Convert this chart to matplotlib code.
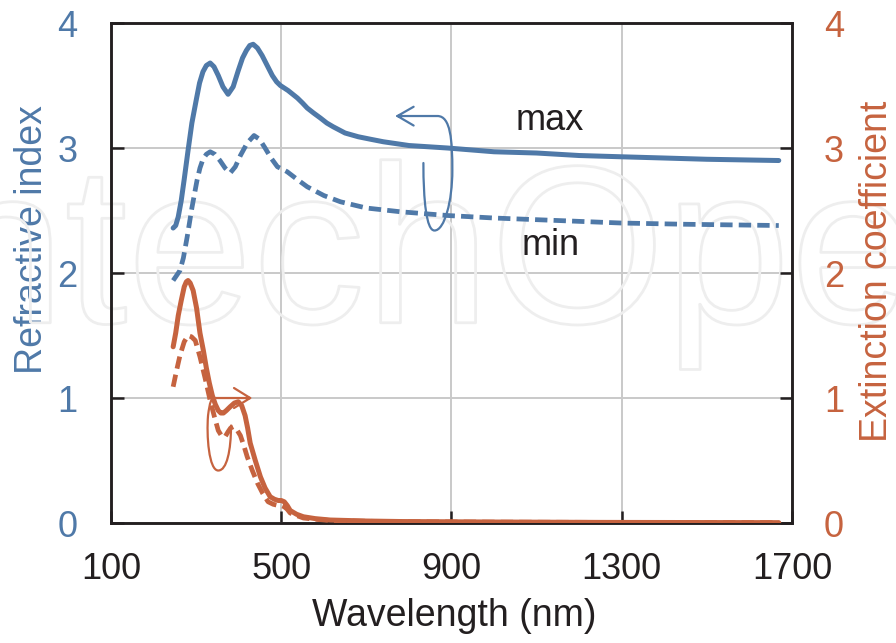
import matplotlib
matplotlib.use("Agg")
import matplotlib.pyplot as plt
import matplotlib.patheffects as pe
from matplotlib.path import Path
from matplotlib.patches import PathPatch

plt.rcParams['font.family'] = ['Liberation Sans', 'DejaVu Sans']

BLUE = "#4f79a8"
ORANGE = "#c6633f"
INK = "#231f20"

# refractive index, upper bound
n_max_wl = [246, 252, 258, 265, 272, 281, 290, 300, 308, 316, 324, 333, 342, 352, 363,
            375, 387, 399, 409, 418, 426, 434, 444, 455, 467, 479, 489, 498, 507, 516,
            527, 538, 550, 561, 576, 592, 607, 622, 650, 681, 710, 740, 800, 891,
            1000, 1100, 1200, 1298, 1400, 1500, 1669]
n_max = [2.36, 2.38, 2.45, 2.58, 2.75, 2.98, 3.20, 3.38, 3.52, 3.61, 3.66, 3.68, 3.65, 3.58, 3.49,
         3.43, 3.49, 3.62, 3.72, 3.78, 3.82, 3.83, 3.80, 3.74, 3.66, 3.58, 3.53, 3.50, 3.48, 3.46,
         3.43, 3.40, 3.36, 3.32, 3.28, 3.24, 3.20, 3.17, 3.12, 3.09, 3.07, 3.05, 3.02, 3.00,
         2.97, 2.96, 2.94, 2.93, 2.92, 2.91, 2.90]

# refractive index, lower bound
n_min_wl = [246, 252, 262, 270, 279, 290, 302, 309, 316, 324, 333, 344, 356, 368, 380,
            392, 404, 420, 436, 449, 462, 476, 491, 503, 514, 537, 561, 600, 639, 700,
            780, 891, 1000, 1150, 1298, 1450, 1669]
n_min = [1.94, 1.97, 2.02, 2.12, 2.29, 2.52, 2.74, 2.84, 2.91, 2.95, 2.97, 2.95, 2.90, 2.84, 2.80,
         2.85, 2.94, 3.04, 3.10, 3.07, 3.00, 2.92, 2.85, 2.83, 2.81, 2.75, 2.69, 2.62, 2.57, 2.52,
         2.49, 2.46, 2.44, 2.42, 2.40, 2.39, 2.38]

# extinction coefficient, upper bound
k_max_wl = [246, 252, 258, 265, 272, 277, 281, 286, 293, 301, 309, 317, 324, 331, 338,
            345, 352, 358, 364, 371, 380, 390, 399, 407, 415, 421, 427, 439, 451, 462,
            474, 484, 493, 500, 507, 514, 521, 536, 552, 580, 615, 700, 780, 1000,
            1250, 1450, 1669]
k_max = [1.41, 1.52, 1.66, 1.78, 1.89, 1.93, 1.94, 1.92, 1.86, 1.72, 1.52, 1.38, 1.24, 1.12, 1.02,
         0.95, 0.90, 0.88, 0.88, 0.90, 0.93, 0.96, 0.97, 0.94, 0.86, 0.76, 0.64, 0.50, 0.37, 0.28,
         0.21, 0.19, 0.18, 0.18, 0.17, 0.14, 0.10, 0.07, 0.05, 0.035, 0.024, 0.016, 0.012, 0.008,
         0.005, 0.004, 0.003]

# extinction coefficient, lower bound
k_min_wl = [246, 254, 262, 272, 281, 289, 298, 309, 321, 333, 343, 352, 361, 368, 375,
            381, 387, 395, 404, 412, 420, 432, 444, 456, 469, 481, 493, 500, 507, 514,
            521, 536, 552, 580, 615, 700, 780, 1000, 1250, 1450, 1669]
k_min = [1.09, 1.22, 1.34, 1.45, 1.50, 1.49, 1.46, 1.33, 1.16, 0.98, 0.85, 0.74, 0.69, 0.69, 0.73,
         0.76, 0.77, 0.75, 0.70, 0.62, 0.53, 0.42, 0.32, 0.24, 0.17, 0.15, 0.14, 0.14, 0.13, 0.11,
         0.08, 0.06, 0.04, 0.03, 0.02, 0.014, 0.01, 0.007, 0.005, 0.004, 0.003]

x_ticks = [100, 500, 900, 1300, 1700]
y_ticks = [0, 1, 2, 3, 4]

fig = plt.figure(figsize=(8.96, 6.43), dpi=100)
ax = fig.add_axes([0.1239, 0.1866, 0.7600, 0.7776])
ax2 = ax.twinx()

# faint outlined watermark behind the curves
ax.text(-0.137, 0.498, "IntechOpen", transform=fig.transFigure, fontsize=162,
        color="none", ha="left", va="baseline", zorder=1, clip_on=False,
        path_effects=[pe.Stroke(linewidth=2.0, foreground="#eeeeee")])

lw = 3.6
ax.plot(n_max_wl, n_max, color=BLUE, lw=lw, solid_capstyle="round", solid_joinstyle="round", zorder=3)
ax.plot(n_min_wl, n_min, color=BLUE, lw=lw * 0.95, ls=(0, (2.6, 1.3)), dash_capstyle="butt", zorder=3)
ax2.plot(k_max_wl, k_max, color=ORANGE, lw=lw, solid_capstyle="round", solid_joinstyle="round", zorder=3)
ax2.plot(k_min_wl, k_min, color=ORANGE, lw=lw * 0.95, ls=(0, (2.6, 1.3)), dash_capstyle="butt", zorder=3)

# loop arrow pointing to the left axis
blue_loop = Path(
    [(834, 2.88), (834, 2.58), (841, 2.34), (860, 2.34),
     (884, 2.34), (902, 2.58), (902, 2.82),
     (902, 3.06), (898, 3.256), (867, 3.256),
     (773, 3.256),
     (811, 3.33), (773, 3.256), (811, 3.18)],
    [Path.MOVETO, Path.CURVE4, Path.CURVE4, Path.CURVE4,
     Path.CURVE4, Path.CURVE4, Path.CURVE4,
     Path.CURVE4, Path.CURVE4, Path.CURVE4,
     Path.LINETO,
     Path.MOVETO, Path.LINETO, Path.LINETO])
ax.add_patch(PathPatch(blue_loop, facecolor="none", edgecolor=BLUE, lw=1.6, zorder=4,
                       capstyle="round", joinstyle="round"))

# loop arrow pointing to the right axis
orange_loop = Path(
    [(382, 0.78), (382, 0.58), (372, 0.42), (352, 0.42),
     (330, 0.42), (324, 0.70), (328, 0.86),
     (332, 0.97), (336, 1.0), (342, 1.0),
     (427, 1.0),
     (389, 1.08), (427, 1.0), (389, 0.92)],
    [Path.MOVETO, Path.CURVE4, Path.CURVE4, Path.CURVE4,
     Path.CURVE4, Path.CURVE4, Path.CURVE4,
     Path.CURVE4, Path.CURVE4, Path.CURVE4,
     Path.LINETO,
     Path.MOVETO, Path.LINETO, Path.LINETO])
ax2.add_patch(PathPatch(orange_loop, facecolor="none", edgecolor=ORANGE, lw=1.6, zorder=4,
                        capstyle="round", joinstyle="round"))

ax.text(1131, 3.22, "max", fontsize=26, color=INK, ha="center", va="center", zorder=5)
ax.text(1133, 2.22, "min", fontsize=26, color=INK, ha="center", va="center", zorder=5)

for a in (ax, ax2):
    a.set_xlim(100, 1700)
    a.set_ylim(0, 4)
    a.set_yticks(y_ticks)
ax.set_xticks(x_ticks)

ax.grid(True, color="#c9c9c9", lw=1.4, zorder=0)
ax.set_axisbelow(True)

for a in (ax, ax2):
    for s in a.spines.values():
        s.set_linewidth(1.8)
        s.set_color(INK)

ax.tick_params(axis="both", direction="in", length=9, width=1.8, color=INK, labelsize=26)
ax.tick_params(axis="x", pad=21, labelcolor=INK, top=False)
ax.tick_params(axis="y", pad=24, labelcolor=BLUE)
ax2.tick_params(axis="y", direction="in", length=9, width=1.8, color=INK, labelsize=26,
                pad=23, labelcolor=ORANGE)

ax.set_xlabel("Wavelength (nm)", fontsize=27, color=INK)
ax.set_ylabel("Refractive index", fontsize=27, color=BLUE)
ax2.set_ylabel("Extinction coefficient", fontsize=27, color=ORANGE)
ax.xaxis.set_label_coords(0.504, -0.150)
ax.yaxis.set_label_coords(-0.090, 0.566)
ax2.yaxis.set_label_coords(1.098, 0.504)

fig.savefig("out.png", dpi=100)
